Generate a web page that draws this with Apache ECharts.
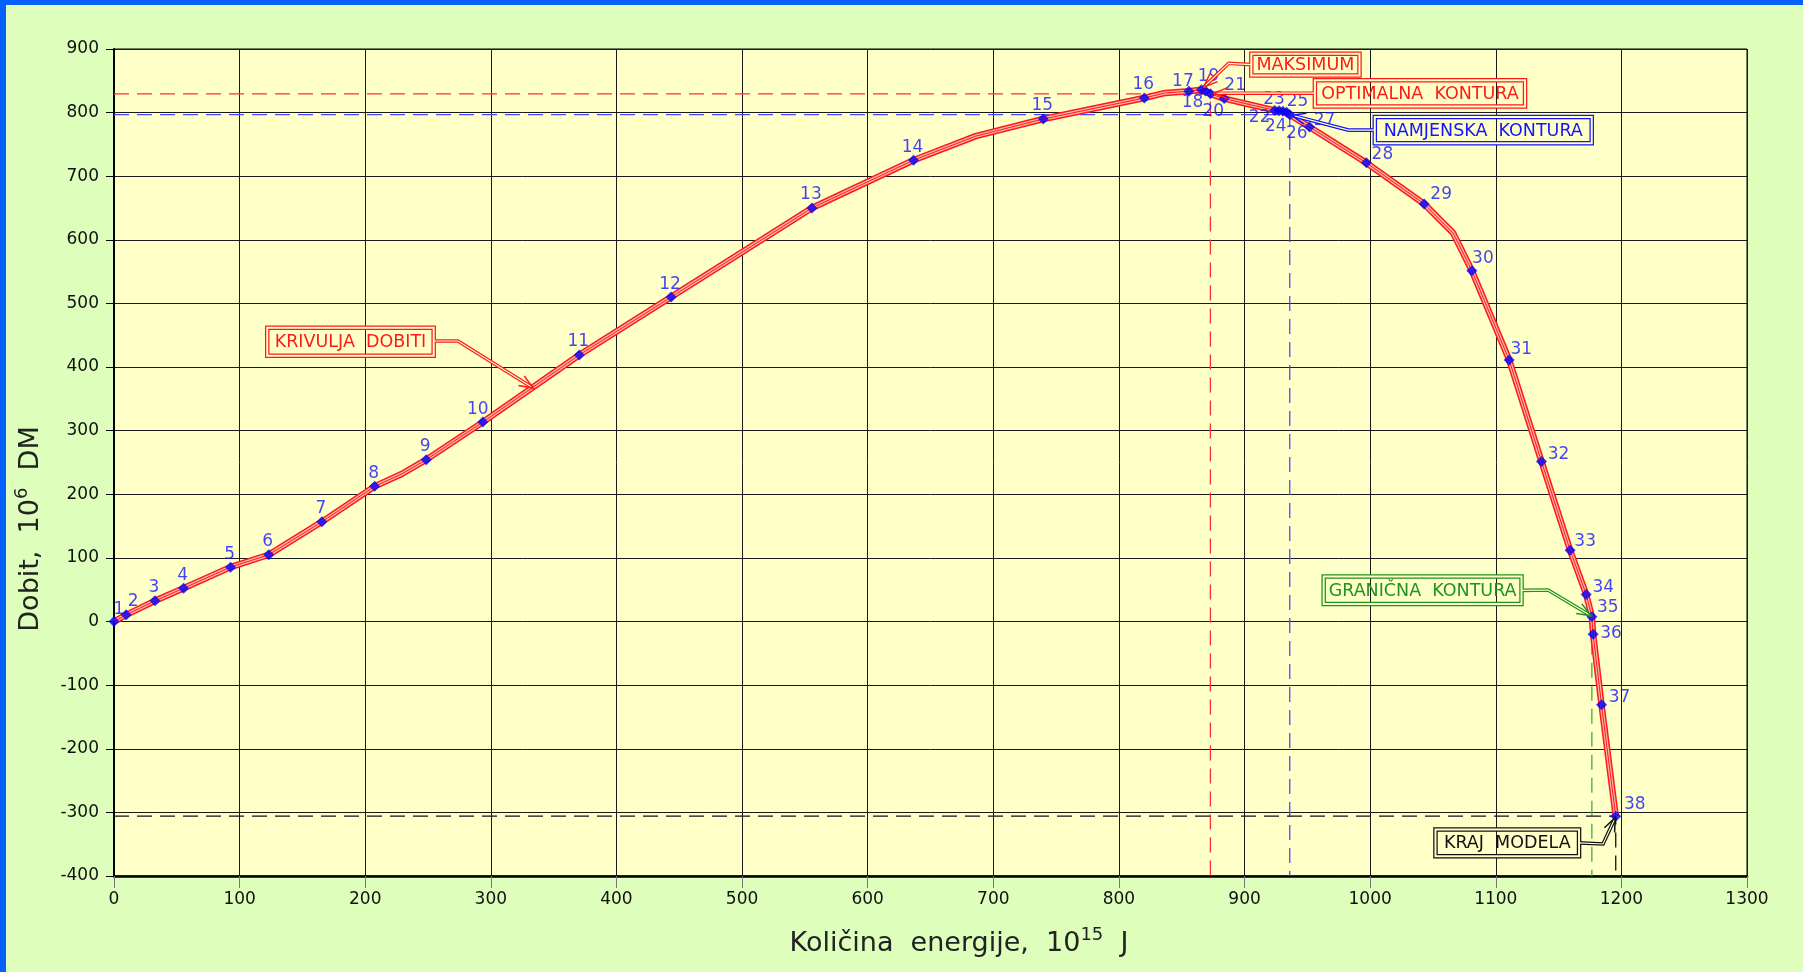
<!DOCTYPE html>
<html>
<head>
<meta charset="utf-8">
<title>Krivulja dobiti</title>
<script src="https://cdn.jsdelivr.net/npm/echarts@6/dist/echarts.min.js"></script>
<style>
  html, body { margin: 0; padding: 0; background: #DDFFBB; }
  #chart { width: 1803px; height: 972px; }
</style>
</head>
<body>
<div id="chart"></div>
<script>
// Model points (numbered 1..38): energy amount [10^15 J] and profit [10^6 DM]
const pointEnergy = [0, 9.7, 32.6, 55.4, 92.8, 123.2, 165.5, 207.5, 248.6, 293.6,
  370.4, 443.5, 555.6, 636.5, 739.8, 820.2, 855.7, 865.7, 868.9, 872.8,
  883.8, 924.0, 927.5, 930.5, 933.5, 936.0, 951.7, 997.0, 1043.0, 1081.0,
  1110.7, 1136.4, 1159.2, 1172.0, 1176.5, 1177.5, 1184.2, 1195.5];
const pointProfit = [0, 10.5, 32.6, 52.4, 85.5, 105.0, 156.7, 212.5, 254.5, 313.5,
  419.0, 510.0, 650.0, 725.2, 790.0, 823.0, 833.5, 836.0, 834.0, 829.5,
  822.0, 803.5, 803.0, 802.0, 800.5, 796.8, 777.5, 721.0, 656.5, 551.5,
  411.0, 251.5, 112.0, 42.5, 7.5, -20.0, -131.0, -306.0];

// Extra bends of the profit curve between numbered points
const bendEnergy = [229.0, 686.0, 837.0, 1066.0];
const bendProfit = [232.0, 763.0, 831.0, 611.0];

// Axis ranges
const xRange = [0, 1300, 100];
const yRange = [-400, 900, 100];

// Highlighted points (1-based numbers)
const OPTIMAL = 20, PURPOSE = 26, LIMIT = 35, END = 38;

const FONT = 'DejaVu Sans';
const PLOT_BG = '#FFFFC8';
const RED = '#FF1A1A';
const BLUE = '#1414FF';
const GREEN = '#1E931E';

// Label offsets [dx, dy] around each point marker
const labelOffset = {
  1: [5, -12], 2: [7, -13], 10: [-5, -13],
  17: [-6, -10], 18: [-9, 13], 19: [3, -14], 20: [3, 18], 21: [11, -13],
  22: [-15, 7], 23: [-5, -11], 24: [-7, 15], 25: [11, -11], 26: [7, 19], 27: [15, -6],
  28: [16, -8], 29: [17, -9], 30: [11, -12], 31: [12, -11], 32: [17, -7], 33: [15, -9],
  34: [17, -7], 35: [16, -9], 36: [18, -1], 37: [18, -7], 38: [19, -12]
};

const pt = (n) => [pointEnergy[n - 1], pointProfit[n - 1]];

const curve = pointEnergy.map((x, i) => [x, pointProfit[i]])
  .concat(bendEnergy.map((x, i) => [x, bendProfit[i]]))
  .sort((a, b) => a[0] - b[0]);

const markers = pointEnergy.map((x, i) => {
  const n = i + 1;
  return {
    value: [x, pointProfit[i], n],
    label: { offset: labelOffset[n] || [-1, -13] }
  };
});

function guide(color, path) {
  return {
    type: 'line', data: path, symbol: 'none', silent: true, z: 1,
    lineStyle: { color: color, width: 1.3, type: [15, 8] }
  };
}

const o = pt(OPTIMAL), p = pt(PURPOSE), g = pt(LIMIT), e = pt(END);
const yMin = yRange[0];

const chart = echarts.init(document.getElementById('chart'));

chart.setOption({
  backgroundColor: '#DDFFBB',
  animation: false,
  grid: { left: 114, right: 56, top: 49, bottom: 96, show: true,
          backgroundColor: PLOT_BG, borderColor: '#000', borderWidth: 1 },
  xAxis: {
    type: 'value', min: xRange[0], max: xRange[1], interval: xRange[2],
    axisLine: { onZero: false, lineStyle: { color: '#000', width: 2.5 } },
    axisTick: { length: 12, lineStyle: { color: '#777', width: 1 } },
    axisLabel: { margin: 15, fontFamily: FONT, fontSize: 17, color: '#111',
                 formatter: (v) => String(v) },
    splitLine: { lineStyle: { color: '#1a1a1a', width: 1 } }
  },
  yAxis: {
    type: 'value', min: yRange[0], max: yRange[1], interval: yRange[2],
    axisLine: { onZero: false, lineStyle: { color: '#000', width: 2 } },
    axisTick: { length: 8, lineStyle: { color: '#000', width: 1 } },
    axisLabel: { margin: 15, fontFamily: FONT, fontSize: 17, color: '#111',
                 formatter: (v) => String(v) },
    splitLine: { lineStyle: { color: '#1a1a1a', width: 1 } }
  },
  series: [
    guide('#FF3030', [[0, o[1]], o, [o[0], yMin]]),
    guide('#4A4AFF', [[0, p[1]], p, [p[0], yMin]]),
    guide('#3FAF3F', [g, [g[0], yMin]]),
    guide('#111111', [[0, e[1]], e, [e[0], yMin]]),
    { type: 'line', data: curve, symbol: 'none', silent: true, z: 3,
      lineStyle: { color: RED, width: 6.5 } },
    { type: 'line', data: curve, symbol: 'none', silent: true, z: 3,
      lineStyle: { color: '#FFB4A8', width: 3.5 } },
    { type: 'line', data: curve, symbol: 'none', silent: true, z: 3,
      lineStyle: { color: RED, width: 1 } },
    { type: 'scatter', data: markers, symbol: 'diamond', symbolSize: 11, z: 5,
      itemStyle: { color: '#0000FF' },
      label: { show: true, position: 'inside', formatter: (d) => String(d.value[2]),
               fontFamily: FONT, fontSize: 17, color: BLUE,
               align: 'center', verticalAlign: 'middle' } }
  ]
});

// Callout boxes: box [x1, x2, y1, y2] and leader path in data units
const notes = [
  { text: 'KRIVULJA  DOBITI', color: RED, box: [122, 254.5, 462, 418],
    leader: [[254.5, 441], [273.8, 441], [333.7, 367]] },
  { text: 'MAKSIMUM', color: RED, box: [905.4, 991.5, 892.6, 858.2],
    leader: [[905.4, 875.4], [887.4, 877.5], [867.5, 840]] },
  { text: 'OPTIMALNA  KONTURA', color: RED, box: [956, 1123.3, 851, 809.5],
    leader: [[956, 830.5], [875.5, 830.5]] },
  { text: 'NAMJENSKA  KONTURA', color: BLUE, box: [1003.7, 1176.4, 793, 752],
    leader: [[1003.7, 772.5], [982.7, 772.5], [937.5, 796]] },
  { text: 'GRANIČNA  KONTURA', color: GREEN, box: [963, 1120.5, 70.7, 27.5],
    leader: [[1120.5, 49], [1141.6, 49.5], [1175.8, 9]] },
  { text: 'KRAJ  MODELA', color: '#111', box: [1052, 1166.3, -327, -369],
    leader: [[1166.3, -348], [1185.4, -349.7], [1195.2, -308]] }
];

function toPx(v) { return chart.convertToPixel({ xAxisIndex: 0, yAxisIndex: 0 }, v); }

function calloutGraphics() {
  const els = [];
  notes.forEach((n) => {
    const a = toPx([n.box[0], n.box[2]]), b = toPx([n.box[1], n.box[3]]);
    const x = Math.min(a[0], b[0]), y = Math.min(a[1], b[1]);
    const w = Math.abs(b[0] - a[0]), h = Math.abs(b[1] - a[1]);
    // double-line frame
    els.push({ type: 'rect', z: 20, silent: true, shape: { x, y, width: w, height: h },
               style: { fill: null, stroke: n.color, lineWidth: 4.5 } });
    els.push({ type: 'rect', z: 21, silent: true, shape: { x, y, width: w, height: h },
               style: { fill: null, stroke: PLOT_BG, lineWidth: 2 } });
    els.push({ type: 'text', z: 22, silent: true, x: x + w / 2, y: y + h / 2 + 1,
               style: { text: n.text, fill: n.color, fontFamily: FONT, fontSize: 17.5,
                        align: 'center', verticalAlign: 'middle' } });
    // double-line leader
    const pts = n.leader.map(toPx);
    els.push({ type: 'polyline', z: 20, silent: true, shape: { points: pts },
               style: { stroke: n.color, lineWidth: 3.6, fill: null } });
    els.push({ type: 'polyline', z: 21, silent: true, shape: { points: pts },
               style: { stroke: PLOT_BG, lineWidth: 1.2, fill: null } });
    // open arrow head at the leader tip
    const t = pts[pts.length - 1], s = pts[pts.length - 2];
    const ang = Math.atan2(t[1] - s[1], t[0] - s[0]);
    const L = 15, sp = 0.38;
    const h1 = [t[0] - L * Math.cos(ang - sp), t[1] - L * Math.sin(ang - sp)];
    const h2 = [t[0] - L * Math.cos(ang + sp), t[1] - L * Math.sin(ang + sp)];
    els.push({ type: 'polyline', z: 22, silent: true, shape: { points: [h1, t, h2] },
               style: { stroke: n.color, lineWidth: 1.5, fill: null } });
  });
  return els;
}

// Axis titles with raised exponents
const titleRich = {
  t: { fontFamily: FONT, fontSize: 27, lineHeight: 36, fill: '#222' },
  s: { fontFamily: FONT, fontSize: 18, lineHeight: 20, verticalAlign: 'top', fill: '#222' }
};

chart.setOption({
  graphic: [
    { type: 'rect', z: 30, silent: true, shape: { x: 0, y: 0, width: 1803, height: 5 },
      style: { fill: '#0660FF' } },
    { type: 'rect', z: 30, silent: true, shape: { x: 0, y: 0, width: 6, height: 972 },
      style: { fill: '#0660FF' } },
    { type: 'text', z: 10, silent: true, x: 31, y: 529, rotation: Math.PI / 2,
      style: { text: '{t|Dobit,  10}{s|6}{t|  DM}', rich: titleRich,
               align: 'center', verticalAlign: 'middle' } },
    { type: 'text', z: 10, silent: true, x: 959, y: 944,
      style: { text: '{t|Količina  energije,  10}{s|15}{t|  J}', rich: titleRich,
               align: 'center', verticalAlign: 'middle' } }
  ].concat(calloutGraphics())
});
</script>
</body>
</html>
